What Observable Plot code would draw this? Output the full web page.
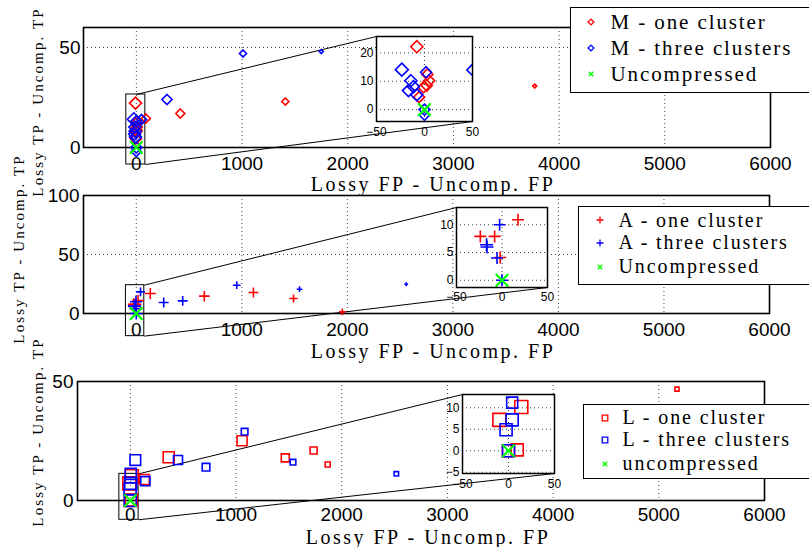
<!DOCTYPE html>
<html><head><meta charset="utf-8">
<script src="https://cdn.jsdelivr.net/npm/d3@7"></script>
<script src="https://cdn.jsdelivr.net/npm/@observablehq/plot@0.6"></script>
<style>
html,body{margin:0;padding:0;background:#fff;}
#chart{position:relative;width:809px;height:547px;overflow:hidden;background:#fff;}
#chart > *{position:absolute;}
.ttl{font-family:"Liberation Serif","Times New Roman",serif;color:#000;white-space:nowrap;}
.legend{border:1.5px solid #000;background:#fff;box-sizing:border-box;}
.legend > *{position:absolute;}
</style></head><body><div id="chart"></div>
<script>
// ---------------- data ----------------
const xTicks = [0, 1000, 2000, 3000, 4000, 5000, 6000];
const insetXTicks = [-50, 0, 50];

// M panel (diamonds)
const mOneX = [-8, 90, 416, 1410, 3769, 3, 5, 2.4, -1, -5.6];
const mOneY = [22.2, 14.5, 17, 23, 30.7, 12.4, 10.2, 8.5, 7.9, 4.4];
const mOneS = [6, 4.5, 4.5, 3.5, 2, 5.5, 5.5, 5.5, 5.5, 5.5];
const mThreeX = [-23.6, -14.2, 1.7, 49.3, -11.5, -16.7, -8, 0, 0, 290, 1009, 1750];
const mThreeY = [14.1, 10.2, 13.2, 14, 8.1, 6.7, 5.2, 0, -2, 24, 47, 48];
const mThreeS = [6.5, 6, 5.5, 5, 6, 6, 6, 5.5, 5, 5, 3.5, 2];

// A panel (plus)
const aOneX = [17.6, -23.8, -8.1, -2, 133, 645, 1110, 1490, 1952];
const aOneY = [10.9, 7.9, 7.9, 4.1, 16.9, 14.7, 17.8, 12.7, 1.4];
const aOneS = [6, 6, 6, 6, 5.5, 5.3, 5, 4.2, 3.5];
const aThreeX = [-2.6, -16.5, -17, -5.5, 0, 40, 260, 440, 952, 1547, 2558];
const aThreeY = [10, 6, 6.4, 4, 0, 18.3, 9.3, 10.7, 24, 20.6, 24.8];
const aThreeS = [6, 6.5, 6.5, 6, 6, 4.5, 5, 5, 4, 3, 2];

// L panel (squares)
const lOneX = [13.9, -9.9, 9.5, 0, 132, 363, 1057, 1466, 1734, 1867, 5172];
const lOneY = [10.2, 7.2, 0.2, 0, 8.8, 18.2, 25.1, 17.9, 21, 15.1, 46.8];
const lOneS = [6.5, 6.5, 6, 6, 5, 5.5, 5, 4, 3.5, 2.5, 2];
const lThreeX = [4, 4, -2.6, 0, 47, 142, 451, 716, 1081, 1539, 2517];
const lThreeY = [11.2, 7.2, 4.9, 0, 17, 8.1, 17, 14, 28.9, 16.1, 11.2];
const lThreeS = [5.5, 6, 6, 6, 5.3, 4.6, 4.5, 3.8, 3.3, 2.8, 2.2];

// uncompressed reference
const uncX = [0], uncY = [0], uncS = [6.3];

const mLabels = ["M - one cluster", "M - three clusters", "Uncompressed"];
const aLabels = ["A - one cluster", "A - three clusters", "Uncompressed"];
const lLabels = ["L - one cluster", "L - three clusters", "uncompressed"];
const xTitle = "Lossy FP - Uncomp. FP";
const yTitle = "Lossy TP - Uncomp. TP";

// ---------------- helpers ----------------
const pts = (xs, ys, ss) => xs.map((x, i) => ({x, y: ys[i], s: ss[i]}));
const SYM = {
  diamond2: {d3: d3.symbolDiamond2, k: 1.11},
  plus: {d3: d3.symbolPlus, k: 1.52},
  square2: {d3: d3.symbolSquare2, k: 0.785},
  times: {d3: d3.symbolTimes, k: 1.097}
};
const RED = "#ff0000", BLUE = "#0000ff", GREEN = "#00ff00";
const chart = document.getElementById("chart");
const GRID = {stroke: "#444", strokeOpacity: 1, strokeWidth: 1, strokeDasharray: "1,3"};

function dots(data, sym, color, clip, sw) {
  return Plot.dot(data, {
    x: "x", y: "y", r: d => d.s / SYM[sym].k, symbol: sym,
    stroke: color, fill: "none", strokeWidth: sw, clip
  });
}

const panels = [
  {
    top: 0, height: 190, mL: 83, mR: 39, mT: 27, mB: 43,
    yDomain: [0, 60], yTicks: [0, 50], yGrid: [50], yPad: 3, xPad: 9,
    sym: "diamond2",
    one: pts(mOneX, mOneY, mOneS), three: pts(mThreeX, mThreeY, mThreeS),
    rect: {x1: -95, x2: 85, y1: -8.5, y2: 26.5}, upper: [0, 26.5],
    inset: {box: [376, 36, 472, 121], y: [-4.2, 25.8], yTicks: [0, 10, 20], padX: 6},
    legend: {left: 570, top: 7, height: 86, rows: [15, 41, 67], mx: 21, tx: 41, font: 21, lh: 26, mh: 2.9, labels: mLabels},
    xt: [433, 184], yt: [38, 102]
  },
  {
    top: 185, height: 175, mL: 83, mR: 40, mT: 10, mB: 47,
    yDomain: [0, 100], yTicks: [0, 50, 100], yGrid: [50], yPad: 4, xPad: 9,
    sym: "plus",
    one: pts(aOneX, aOneY, aOneS), three: pts(aThreeX, aThreeY, aThreeS),
    rect: {x1: -98, x2: 76, y1: -19.2, y2: 24}, upper: [76, 24],
    inset: {box: [456, 207, 547, 287], y: [-1.3, 13.1], yTicks: [0, 5, 10], padX: 5},
    legend: {left: 578, top: 206, height: 79, rows: [14.7, 37.3, 61.3], mx: 22, tx: 41, font: 20, lh: 23, mh: 3.6, labels: aLabels},
    xt: [433, 351], yt: [19, 249]
  },
  {
    top: 365, height: 182, mL: 77, mR: 45, mT: 16, mB: 47,
    yDomain: [0, 50], yTicks: [0, 50], yGrid: [], yPad: 4, xPad: 7,
    sym: "square2",
    one: pts(lOneX, lOneY, lOneS), three: pts(lThreeX, lThreeY, lThreeS),
    rect: {x1: -104, x2: 78.5, y1: -8.1, y2: 11.2}, upper: [78.5, 11.2],
    inset: {box: [462, 394, 554, 473], y: [-5.3, 13.1], yTicks: [-5, 0, 5, 10], padX: 6},
    legend: {left: 583, top: 404, height: 75, rows: [14.3, 36, 60], mx: 22, tx: 40, font: 20, lh: 23, mh: 2.8, labels: lLabels},
    xt: [428, 537], yt: [38, 432]
  }
];

const unc = pts(uncX, uncY, uncS);
const W = 809;
const xDomain = [-500, 6000];

const mains = [], insets = [], overlays = [];

for (const P of panels) {
  const r0 = P.mL, r1 = W - P.mR;
  const py0 = P.top + P.height - P.mB, py1 = P.top + P.mT;
  const invX = px => xDomain[0] + (px - r0) * (xDomain[1] - xDomain[0]) / (r1 - r0);
  const invY = py => P.yDomain[0] + (py - py0) * (P.yDomain[1] - P.yDomain[0]) / (py1 - py0);
  const [bx0, by0, bx1, by1] = P.inset.box;
  const links = [
    {x1: P.upper[0], y1: P.upper[1], x2: invX(bx0), y2: invY(by0)},
    {x1: P.rect.x2, y1: P.rect.y1, x2: invX(bx1), y2: invY(by1)}
  ];

  const main = Plot.plot({
    width: W, height: P.height,
    marginLeft: P.mL, marginRight: P.mR, marginTop: P.mT, marginBottom: P.mB,
    x: {domain: xDomain, ticks: xTicks, tickSize: 0, tickPadding: P.xPad, label: null, tickFormat: d => String(d)},
    y: {domain: P.yDomain, ticks: P.yTicks, tickSize: 0, tickPadding: P.yPad, label: null},
    r: {type: "identity"},
    style: {background: "transparent", fontFamily: "'Liberation Sans', Arial, sans-serif", fontSize: "19px", color: "#000", overflow: "visible"},
    marks: [
      Plot.gridX(xTicks.slice(0, 6), GRID),
      Plot.gridY(P.yGrid, GRID),
      Plot.frame({stroke: "#000", strokeWidth: 1.6}),
      Plot.rect([P.rect], {x1: "x1", x2: "x2", y1: "y1", y2: "y2", stroke: "#000", fill: "none", strokeWidth: 1}),
      Plot.link(links, {x1: "x1", y1: "y1", x2: "x2", y2: "y2", stroke: "#000", strokeWidth: 1}),
      dots(P.one, P.sym, RED, false, 1.6),
      dots(P.three, P.sym, BLUE, false, 1.6),
      dots(unc, "times", GREEN, false, 2.2)
    ]
  });
  main.style.left = "0px";
  main.style.top = P.top + "px";
  mains.push(main);

  // inset
  const iL = 30, iR = 6, iT = 6, iB = 22;
  const iw = bx1 - bx0, ih = by1 - by0;
  const ins = Plot.plot({
    width: iw + iL + iR, height: ih + iT + iB,
    marginLeft: iL, marginRight: iR, marginTop: iT, marginBottom: iB,
    x: {domain: [-50, 50], ticks: insetXTicks, tickSize: 0, tickPadding: P.inset.padX, label: null},
    y: {domain: P.inset.y, ticks: P.inset.yTicks, tickSize: 0, tickPadding: 3, label: null},
    r: {type: "identity"},
    style: {background: "transparent", fontFamily: "'Liberation Sans', Arial, sans-serif", fontSize: "12px", color: "#000", overflow: "visible"},
    marks: [
      Plot.frame({fill: "#fff", stroke: "none"}),
      Plot.gridX([0], GRID),
      Plot.gridY(P.inset.yTicks, GRID),
      dots(P.one, P.sym, RED, true, 1.6),
      dots(P.three, P.sym, BLUE, true, 1.6),
      dots(unc, "times", GREEN, true, 2.2),
      Plot.frame({stroke: "#000", strokeWidth: 1.5})
    ]
  });
  ins.style.left = (bx0 - iL) + "px";
  ins.style.top = (by0 - iT) + "px";
  insets.push(ins);

  // legend
  const L = P.legend;
  const box = document.createElement("div");
  box.className = "legend";
  Object.assign(box.style, {left: L.left + "px", top: L.top + "px", width: "260px", height: L.height + "px"});
  const entries = [[P.sym, RED, L.mh], [P.sym, BLUE, L.mh], ["times", GREEN, 2.4]];
  entries.forEach(([sym, color, h], i) => {
    const cy = L.rows[i] - 1.5;
    const r = h / SYM[sym].k;
    const svg = d3.create("svg").attr("width", 16).attr("height", 16)
      .style("left", (L.mx - 1.5 - 8) + "px").style("top", (cy - 8) + "px");
    svg.append("path").attr("transform", "translate(8,8)")
      .attr("d", d3.symbol(SYM[sym].d3, r * r * Math.PI)())
      .attr("fill", "none").attr("stroke", color).attr("stroke-width", 1.3);
    box.appendChild(svg.node());
    const t = document.createElement("div");
    t.className = "ttl";
    t.textContent = L.labels[i];
    Object.assign(t.style, {left: (L.tx - 1.5) + "px", top: (cy - L.lh / 2) + "px", height: L.lh + "px",
      lineHeight: L.lh + "px", fontSize: L.font + "px", letterSpacing: "1.9px"});
    box.appendChild(t);
  });
  overlays.push(box);

  // axis titles
  const xt = document.createElement("div");
  xt.className = "ttl";
  xt.textContent = xTitle;
  Object.assign(xt.style, {left: P.xt[0] + "px", top: P.xt[1] + "px", fontSize: "20px", letterSpacing: "2.5px",
    lineHeight: "15px", transform: "translate(-50%,-50%)"});
  overlays.push(xt);
  const yt = document.createElement("div");
  yt.className = "ttl";
  yt.textContent = yTitle;
  Object.assign(yt.style, {left: P.yt[0] + "px", top: P.yt[1] + "px", fontSize: "15px", letterSpacing: "2.1px",
    lineHeight: "13px", transform: "translate(-50%,-50%) rotate(-90deg)"});
  overlays.push(yt);
}

for (const n of mains) chart.appendChild(n);
for (const n of insets) chart.appendChild(n);
for (const n of overlays) chart.appendChild(n);
</script>
</body></html>
